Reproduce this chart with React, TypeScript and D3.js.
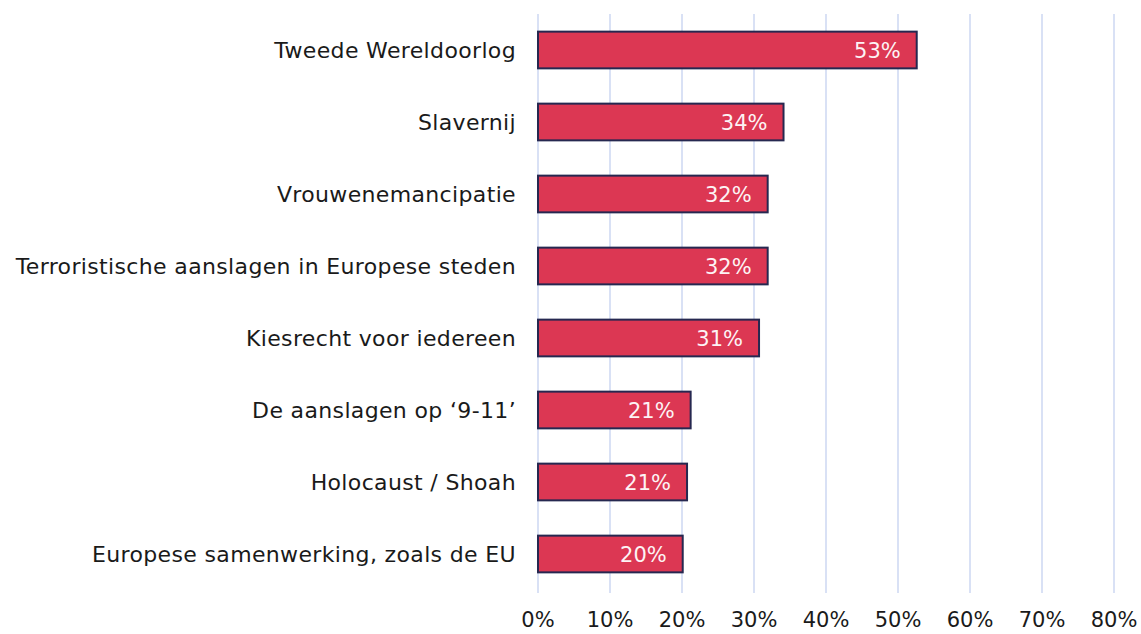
import React from 'react';
import * as d3 from 'd3';

const categories = [
  'Tweede Wereldoorlog',
  'Slavernij',
  'Vrouwenemancipatie',
  'Terroristische aanslagen in Europese steden',
  'Kiesrecht voor iedereen',
  'De aanslagen op ‘9-11’',
  'Holocaust / Shoah',
  'Europese samenwerking, zoals de EU',
];
const values = [52.6, 34.1, 31.9, 31.9, 30.7, 21.2, 20.7, 20.1];
const valueLabels = ['53%', '34%', '32%', '32%', '31%', '21%', '21%', '20%'];
const ticks = [0, 10, 20, 30, 40, 50, 60, 70, 80];

const RED = '#dc3753';
const NAVY = '#262850';
const GRID = '#d9e1f5';
const FONT = '"DejaVu Sans", sans-serif';

const App = () => {
  const ref = React.useRef<HTMLDivElement>(null);

  React.useEffect(() => {
    while (ref.current && ref.current.firstChild) {
      ref.current.removeChild(ref.current.firstChild);
    }

    const width = 1141;
    const height = 634;
    const margin = { top: 14, right: 25, bottom: 44, left: 538 };

    const x = d3.scaleLinear()
      .domain([0, 80])
      .range([margin.left, width - margin.right - 2]);

    const y = d3.scaleBand()
      .domain(categories)
      .range([margin.top, height - margin.bottom])
      .paddingInner(0.49)
      .paddingOuter(0.245);

    const svg = d3.select(ref.current)
      .append('svg')
      .attr('width', width)
      .attr('height', height)
      .style('display', 'block')
      .style('background', '#ffffff');

    // Gridlines
    svg.append('g')
      .selectAll('line')
      .data(ticks)
      .join('line')
      .attr('x1', d => x(d))
      .attr('x2', d => x(d))
      .attr('y1', margin.top)
      .attr('y2', 593)
      .attr('stroke', GRID)
      .attr('stroke-width', 2);

    // Bars
    svg.append('g')
      .selectAll('rect')
      .data(values)
      .join('rect')
      .attr('x', x(0))
      .attr('y', (d, i) => y(categories[i]))
      .attr('width', d => x(d) - x(0))
      .attr('height', y.bandwidth())
      .attr('fill', RED)
      .attr('stroke', NAVY)
      .attr('stroke-width', 2);

    // Value labels inside bars
    svg.append('g')
      .style('font-family', FONT)
      .style('font-size', '21px')
      .attr('text-anchor', 'end')
      .selectAll('text')
      .data(values)
      .join('text')
      .attr('x', d => x(d) - 16)
      .attr('y', (d, i) => y(categories[i]) + y.bandwidth() / 2)
      .attr('dy', '0.36em')
      .attr('fill', '#fdf3f5')
      .text((d, i) => valueLabels[i]);

    // Category labels
    svg.append('g')
      .style('font-family', FONT)
      .style('font-size', '22px')
      .style('letter-spacing', '0.35px')
      .attr('text-anchor', 'end')
      .selectAll('text')
      .data(categories)
      .join('text')
      .attr('x', margin.left - 22)
      .attr('y', d => y(d) + y.bandwidth() / 2)
      .attr('dy', '0.36em')
      .attr('fill', '#1a1a1a')
      .text(d => d);

    // X axis tick labels
    svg.append('g')
      .style('font-family', FONT)
      .style('font-size', '21px')
      .attr('text-anchor', 'middle')
      .selectAll('text')
      .data(ticks)
      .join('text')
      .attr('x', d => x(d))
      .attr('y', 627)
      .attr('fill', '#1a1a1a')
      .text(d => `${d}%`);
  }, []);

  return <div ref={ref} style={{ position: 'absolute', left: 0, top: 0 }} />;
};

export default App;
